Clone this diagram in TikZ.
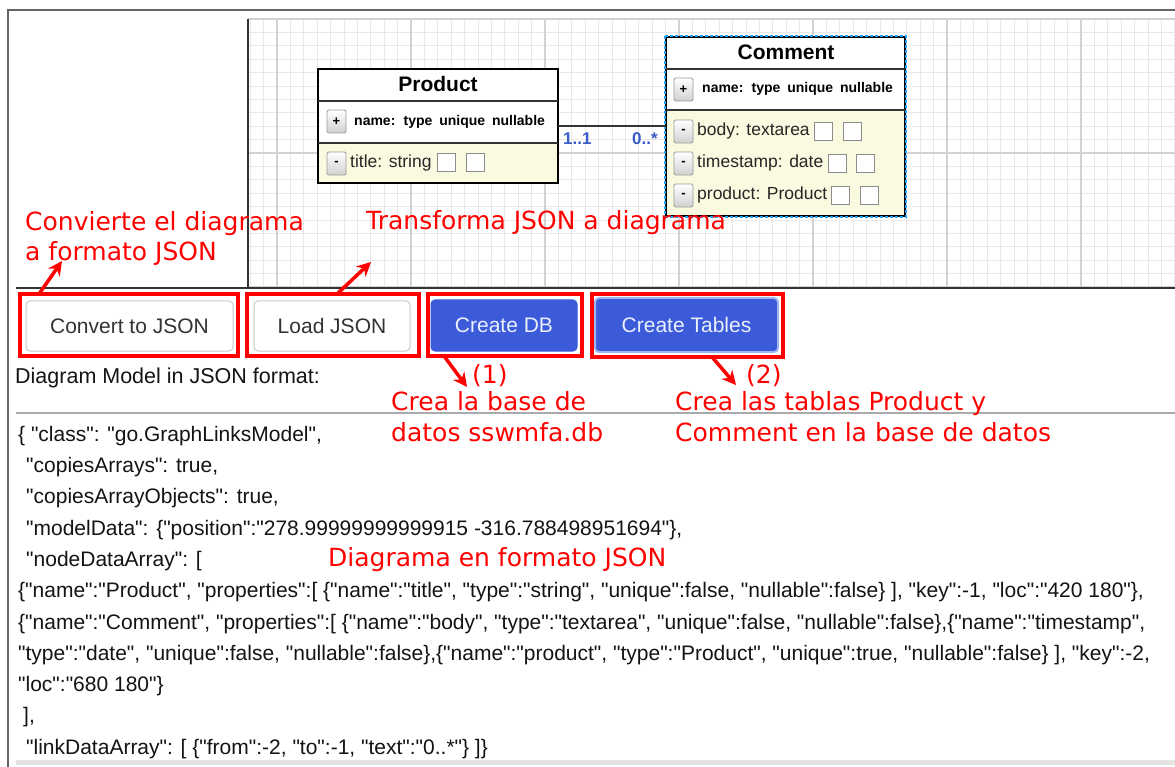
\documentclass[tikz,border=0pt]{standalone}
\usepackage{fontspec}
\setmainfont{Liberation Sans}[Ligatures=TeXOff]
\newfontfamily\notefont{DejaVu Sans}
\usetikzlibrary{arrows.meta,positioning,calc}

\definecolor{framegray}{RGB}{102,102,102}
\definecolor{paneldark}{RGB}{51,51,51}
\definecolor{gridminor}{RGB}{232,232,232}
\definecolor{gridmajor}{RGB}{210,210,210}
\definecolor{note}{RGB}{255,0,0}
\definecolor{btnblue}{RGB}{59,91,219}
\definecolor{btnglow}{RGB}{160,182,238}
\definecolor{btntext}{RGB}{236,239,252}
\definecolor{btnborder}{RGB}{200,200,200}
\definecolor{btndark}{RGB}{51,51,51}
\definecolor{proprow}{RGB}{250,250,224}
\definecolor{linkblue}{RGB}{58,92,200}
\definecolor{selcyan}{RGB}{30,165,255}
\definecolor{jsontext}{RGB}{20,20,20}
\definecolor{sepgray}{RGB}{170,170,170}
\definecolor{bandgray}{RGB}{228,228,228}

\newcommand{\setfs}[1]{\fontsize{#1}{#1}\selectfont}

\begin{document}
\begin{tikzpicture}[x=1pt,y=-1pt,
  notetext/.style={text=note, font=\notefont\setfs{25}, inner sep=0, anchor=base west},
  notebox/.style={draw=note, line width=4pt, inner sep=0, outer sep=0},
  notearrow/.style={draw=note, line width=3.5pt, -{Stealth[length=14pt,width=14pt]}},
  btnwhite/.style={draw=btnborder, fill=white, rounded corners=4pt, line width=1pt,
    text=btndark, font=\setfs{21}, inner sep=0},
  btnfilled/.style={draw=btnblue, fill=btnblue, rounded corners=4pt, line width=1pt,
    text=btntext, font=\setfs{21}, inner sep=0},
  classbox/.style={draw=black, line width=2.2pt, inner sep=0, outer sep=0},
  rowsep/.style={draw=paneldark, line width=1.4pt},
  classtitle/.style={font=\bfseries\setfs{21}, inner sep=0},
  headtext/.style={font=\bfseries\setfs{14}, inner sep=0, anchor=west},
  proptext/.style={font=\setfs{17.5}, inner sep=0, anchor=west, text=black!85},
  togglebtn/.style={draw=black!40, top color=white, bottom color=black!18, rounded corners=1.5pt,
    minimum width=19, minimum height=23, inner sep=0, font=\bfseries\setfs{13}, line width=0.8pt},
  chk/.style={draw=black!45, fill=white, minimum size=18, inner sep=0, line width=0.9pt},
  link/.style={draw=paneldark, line width=2.2pt},
  linklabel/.style={text=linkblue, font=\bfseries\setfs{17}, inner sep=0, anchor=base west},
  json/.style={text=jsontext, font=\setfs{21}, inner sep=0, anchor=base west}
]
\useasboundingbox (0,0) rectangle (1175,767);
\fill[white] (0,0) rectangle (1175,767);

% ---------- diagram canvas grid ----------
\begin{scope}
  \clip (248,19) rectangle (1175,288);
  \foreach \i in {0,...,69}
    \draw[gridminor, line width=0.8pt] ({250.2+\i*13.4},19) -- ({250.2+\i*13.4},288);
  \foreach \j in {0,...,20}
    \draw[gridminor, line width=0.8pt] (248,{19+\j*13.4}) -- (1175,{19+\j*13.4});
  \foreach \i in {0,...,6}
    \draw[gridmajor, line width=1.1pt] ({277+\i*134},19) -- ({277+\i*134},288);
  \foreach \j in {0,1,2}
    \draw[gridmajor, line width=1.1pt] (248,{19+\j*134}) -- (1175,{19+\j*134});
\end{scope}

% ---------- page frame and panel rules ----------
\draw[framegray, line width=1.5pt] (8,767) -- (8,10) -- (1175,10);
\draw[paneldark, line width=2pt] (248,19) -- (248,288);
\draw[paneldark, line width=2pt] (16,288) -- (1175,288);
\draw[sepgray, line width=1.5pt] (16,413) -- (1175,413);
\fill[bandgray] (16,760) rectangle (1175,765);

% ---------- Product class ----------
\fill[white] (318,69) rectangle (558,143);
\fill[proprow] (318,143) rectangle (558,183);
\node[classbox, minimum width=240, minimum height=114] (product) at (438,126) {};
\draw[rowsep] (product.west |- 0,101) -- (product.east |- 0,101);
\draw[rowsep] (product.west |- 0,143) -- (product.east |- 0,143);
\node[classtitle] (ptitle) at (438,84) {Product};
\node[togglebtn] (pplus) at (336.5,121.5) {+};
\node[headtext] (phead) at (354,121.5) {name:\hspace{3pt} type\hspace{3pt} unique\hspace{3pt} nullable};
\node[togglebtn] (pminus1) at (336.5,163.5) {-};
\node[proptext] (pprop1) at (350,162.5) {title: string};
\node[chk, right=5pt of pprop1] (pchk1a) {};
\node[chk, right=10pt of pchk1a] (pchk1b) {};

% ---------- Comment class ----------
\fill[white] (666,37) rectangle (905,110);
\fill[proprow] (666,110) rectangle (905,216);
\node[classbox, line width=1.8pt, minimum width=239, minimum height=179] (comment) at (785.5,126.5) {};
\draw[selcyan, line width=1.6pt, dash pattern=on 3pt off 2pt]
  ($(comment.north west)+(-0.8,-0.8)$) rectangle ($(comment.south east)+(0.8,0.8)$);
\draw[rowsep] (comment.west |- 0,69) -- (comment.east |- 0,69);
\draw[rowsep] (comment.west |- 0,110) -- (comment.east |- 0,110);
\node[classtitle] (ctitle) at (786,52.5) {Comment};
\node[togglebtn] (cplus) at (683.5,89.5) {+};
\node[headtext] (chead) at (702,89) {name:\hspace{3pt} type\hspace{3pt} unique\hspace{3pt} nullable};
\node[togglebtn] (cminus1) at (683.5,131.5) {-};
\node[proptext] (cprop1) at (697,131) {body: textarea};
\node[chk, right=4pt of cprop1] (cchk1a) {};
\node[chk, right=10pt of cchk1a] (cchk1b) {};
\node[togglebtn] (cminus2) at (683.5,163.5) {-};
\node[proptext] (cprop2) at (697,163) {timestamp: date};
\node[chk, right=4pt of cprop2] (cchk2a) {};
\node[chk, right=10pt of cchk2a] (cchk2b) {};
\node[togglebtn] (cminus3) at (683.5,195.5) {-};
\node[proptext] (cprop3) at (697,195) {product: Product};
\node[chk, right=4pt of cprop3] (cchk3a) {};
\node[chk, right=10pt of cchk3a] (cchk3b) {};

% ---------- association ----------
\draw[link] (product.east |- 0,126) -- (comment.west |- 0,126);
\node[linklabel] (mfrom) at (563,145) {1..1};
\node[linklabel] (mto) at (632,145) {0..*};

% ---------- toolbar buttons ----------
\node[btnwhite, minimum width=207, minimum height=50] (bconvert) at (129.5,326) {Convert to JSON};
\node[btnwhite, minimum width=156, minimum height=50] (bload) at (332,326) {Load JSON};
\node[btnfilled, minimum width=146, minimum height=51] (bcreatedb) at (504,325.5) {Create DB};
\node[btnfilled, draw=btnglow, line width=2pt, minimum width=183, minimum height=54] (btables) at (686.5,325) {Create Tables};

% ---------- highlight frames ----------
\node[notebox, minimum width=218, minimum height=62] (rb1) at (129,325) {};
\node[notebox, minimum width=172, minimum height=62] (rb2) at (333,325) {};
\node[notebox, minimum width=154, minimum height=62] (rb3) at (505,325) {};
\node[notebox, minimum width=191, minimum height=63] (rb4) at (687.5,325.5) {};

% ---------- annotations ----------
\node[notetext] (n1a) at (25,231) {Convierte el diagrama};
\node[notetext] (n1b) at (25,261) {a formato JSON};
\node[notetext] (n2) at (366,230) {Transforma JSON a diagrama};
\node[notetext] (n3a) at (472,383) {(1)};
\node[notetext] (n3b) at (391,410) {Crea la base de};
\node[notetext] (n3c) at (391,441) {datos sswmfa.db};
\node[notetext] (n4a) at (746,383) {(2)};
\node[notetext] (n4b) at (675,410) {Crea las tablas Product y};
\node[notetext] (n4c) at (675,441) {Comment en la base de datos};
\node[notetext] (n5) at (328,566) {Diagrama en formato JSON};

\coordinate (tip1) at (62,261);
\coordinate (tip2) at (371,262);
\coordinate (tip3) at (467,387);
\coordinate (tip4) at (736,385);
\draw[notearrow] ($(rb1.north west)+(19,0)$) -- (tip1);
\draw[notearrow] ($(rb2.north west)+(90,0)$) -- (tip2);
\draw[notearrow] ($(rb3.south west)+(16,0)$) -- (tip3);
\draw[notearrow] ($(rb4.south west)+(120,0)$) -- (tip4);

% ---------- model text ----------
\node[json, font=\setfs{21.5}] (label) at (15,383) {Diagram Model in JSON format:};
\node[json] (j1) at (18,441) {\{ "class": "go.GraphLinksModel",};
\node[json] (j2) at (26,472) {"copiesArrays": true,};
\node[json] (j3) at (26,503) {"copiesArrayObjects": true,};
\node[json] (j4) at (26,535) {"modelData": \{"position":"278.99999999999915 -316.788498951694"\},};
\node[json] (j5) at (26,566) {"nodeDataArray": [};
\node[json] (j6) at (18,597) {\{"name":"Product", "properties":[ \{"name":"title", "type":"string", "unique":false, "nullable":false\} ], "key":-1, "loc":"420 180"\},};
\node[json] (j7) at (18,629) {\{"name":"Comment", "properties":[ \{"name":"body", "type":"textarea", "unique":false, "nullable":false\},\{"name":"timestamp",};
\node[json] (j8) at (18,660) {"type":"date", "unique":false, "nullable":false\},\{"name":"product", "type":"Product", "unique":true, "nullable":false\} ], "key":-2,};
\node[json] (j9) at (18,691) {"loc":"680 180"\}};
\node[json] (j10) at (23,722) {],};
\node[json] (j11) at (26,754) {"linkDataArray": [ \{"from":-2, "to":-1, "text":"0..*"\} ]\}};
\end{tikzpicture}
\end{document}
